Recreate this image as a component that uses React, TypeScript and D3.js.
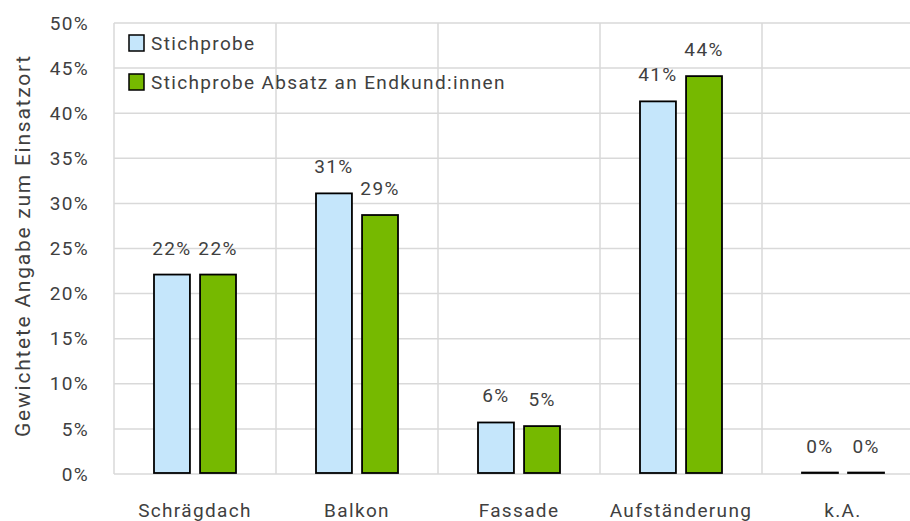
import React, { useEffect, useRef } from 'react';
import * as d3 from 'd3';

const categories = ['Schrägdach', 'Balkon', 'Fassade', 'Aufständerung', 'k.A.'];
const seriesNames = ['Stichprobe', 'Stichprobe Absatz an Endkund:innen'];
const stichprobe = [22.0, 31.0, 5.6, 41.2, 0.05];
const absatz = [22.0, 28.6, 5.2, 44.0, 0.05];
const labelsStichprobe = ['22%', '31%', '6%', '41%', '0%'];
const labelsAbsatz = ['22%', '29%', '5%', '44%', '0%'];
const yTicks = [0, 5, 10, 15, 20, 25, 30, 35, 40, 45, 50];
const colors = ['#C5E6FB', '#76B900'];

const FONT = 'Roboto, "Noto Sans", sans-serif';
const TEXT = '#404040';
const FS = 19;
const LS = 1.35;

const App = () => {
  const svgRef = useRef<SVGSVGElement>(null);

  useEffect(() => {
    if (!svgRef.current) return;
    const svg = d3.select(svgRef.current);
    svg.selectAll('*').remove();

    const width = 910;
    const height = 521;
    const margin = { top: 23, right: -14, bottom: 47, left: 114 };

    const x0 = d3.scaleBand()
      .domain(categories)
      .range([margin.left, width - margin.right])
      .padding(0);

    const x1 = d3.scaleBand()
      .domain(seriesNames)
      .range([0, 82])
      .paddingInner(0.22);

    const y = d3.scaleLinear()
      .domain([0, 50])
      .range([height - margin.bottom, margin.top]);

    const txt = (sel: any) => sel
      .attr('font-family', FONT)
      .attr('font-size', FS)
      .attr('letter-spacing', LS)
      .attr('fill', TEXT);

    // horizontal gridlines
    svg.append('g')
      .selectAll('line')
      .data(yTicks)
      .enter()
      .append('line')
      .attr('x1', margin.left)
      .attr('x2', width - margin.right)
      .attr('y1', d => y(d))
      .attr('y2', d => y(d))
      .attr('stroke', '#d9d9d9')
      .attr('stroke-width', 1.5);

    // vertical gridlines at category boundaries
    const bounds = categories.map(c => x0(c) as number).concat([x0.range()[1]]);
    svg.append('g')
      .selectAll('line')
      .data(bounds)
      .enter()
      .append('line')
      .attr('x1', d => d)
      .attr('x2', d => d)
      .attr('y1', y(50))
      .attr('y2', y(0))
      .attr('stroke', '#d9d9d9')
      .attr('stroke-width', 1.5);

    // y tick labels
    svg.append('g')
      .selectAll('text')
      .data(yTicks)
      .enter()
      .append('text')
      .attr('x', 89)
      .attr('y', d => y(d))
      .attr('dy', '0.35em')
      .attr('text-anchor', 'end')
      .call(txt)
      .text(d => `${d}%`);

    // y axis title
    svg.append('text')
      .attr('transform', `translate(30,${(y(0) + y(50)) / 2 - 3}) rotate(-90)`)
      .attr('text-anchor', 'middle')
      .call(txt)
      .attr('font-size', 21)
      .attr('letter-spacing', 1.75)
      .text('Gewichtete Angabe zum Einsatzort');

    // category labels
    svg.append('g')
      .selectAll('text')
      .data(categories)
      .enter()
      .append('text')
      .attr('x', d => (x0(d) as number) + x0.bandwidth() / 2)
      .attr('y', 517)
      .attr('text-anchor', 'middle')
      .call(txt)
      .text(d => d);

    const seriesData = [
      { name: seriesNames[0], values: stichprobe, labels: labelsStichprobe, color: colors[0] },
      { name: seriesNames[1], values: absatz, labels: labelsAbsatz, color: colors[1] },
    ];

    seriesData.forEach(s => {
      const g = svg.append('g');
      const bx = (i: number) =>
        (x0(categories[i]) as number) + x0.bandwidth() / 2 - 41 + (x1(s.name) as number);
      g.selectAll('rect')
        .data(s.values)
        .enter()
        .append('rect')
        .attr('x', (_d, i) => bx(i))
        .attr('y', d => y(d) - 1)
        .attr('width', x1.bandwidth())
        .attr('height', d => y(0) - y(d))
        .attr('fill', s.color)
        .attr('stroke', '#000')
        .attr('stroke-width', 1.8);

      g.selectAll('text')
        .data(s.values)
        .enter()
        .append('text')
        .attr('x', (_d, i) => bx(i) + x1.bandwidth() / 2)
        .attr('y', d => y(d) - 21)
        .attr('text-anchor', 'middle')
        .call(txt)
        .text((_d, i) => s.labels[i]);
    });

    // legend
    const legend = svg.append('g');
    seriesData.forEach((s, i) => {
      const ly = 43 + i * 39;
      legend.append('rect')
        .attr('x', 129)
        .attr('y', ly - 8)
        .attr('width', 15)
        .attr('height', 16)
        .attr('fill', s.color)
        .attr('stroke', '#000')
        .attr('stroke-width', 1.5);
      legend.append('text')
        .attr('x', 151)
        .attr('y', ly)
        .attr('dy', '0.35em')
        .call(txt)
        .text(s.name);
    });
  }, []);

  return (
    <div style={{ position: 'absolute', left: 0, top: 0 }}>
      <svg ref={svgRef} width={910} height={521} style={{ display: 'block', background: '#fff' }} />
    </div>
  );
};

export default App;
